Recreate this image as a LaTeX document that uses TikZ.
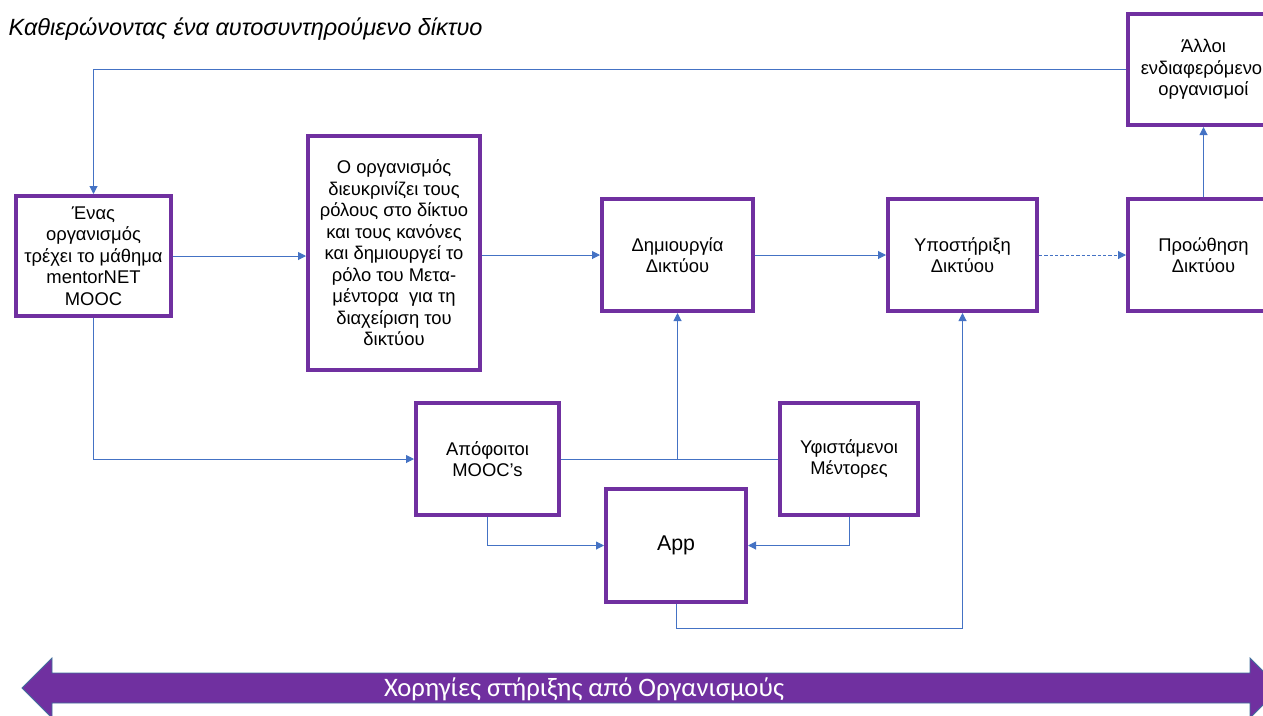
\documentclass[tikz,border=0pt]{standalone}
\usepackage{fontspec}
\setmainfont{Liberation Sans}
\newfontfamily\calibrifont{Carlito}
\usetikzlibrary{arrows.meta,calc}
\definecolor{purp}{HTML}{7030A0}
\definecolor{connc}{HTML}{4472C4}
\definecolor{edgec}{HTML}{41719C}
\begin{document}
\begin{tikzpicture}[x=0.75pt,y=-0.75pt,
  box/.style={draw=purp,line width=3pt,fill=white,align=center,inner sep=0pt,
    font=\fontsize{13.8}{16.1}\selectfont},
  bx/.style 2 args={minimum width={#1*0.75pt},minimum height={#2*0.75pt}},
  conn/.style={draw=connc,line width=0.75pt},
  arr/.style={conn,-{Triangle[length=6pt,width=6pt]}}]
\useasboundingbox (0,0) rectangle (1263,715);
\clip (0,0) rectangle (1263,715);

\node[anchor=base west,font=\itshape\fontsize{17.6}{20}\selectfont] (title) at (4,35)
  {Καθιερώνοντας ένα αυτοσυντηρούμενο δίκτυο};

\node[box,bx={155}{120}] (b1) at (93.5,256)
  {Ένας\\οργανισμός\\τρέχει το μάθημα\\mentorNET\\MOOC};
\node[box,bx={172}{234}] (b2) at (394,253)
  {Ο οργανισμός\\διευκρινίζει τους\\ρόλους στο δίκτυο\\και τους κανόνες\\και δημιουργεί το\\ρόλο του Μετα-\\μέντορα\ \ για τη\\διαχείριση του\\δικτύου};
\node[box,bx={151}{112}] (b3) at (677.5,255) {Δημιουργία\\Δικτύου};
\node[box,bx={149}{112}] (b4) at (962.5,255) {Υποστήριξη\\Δικτύου};
\node[box,bx={151}{112}] (b5) at (1203.5,255) {Προώθηση\\Δικτύου};
\node[box,bx={151}{111}] (b6) at (1203.5,69.5) {Άλλοι\\ενδιαφερόμενοι\\οργανισμοί};
\node[box,bx={143}{112}] (b7) at (487.5,459) {Απόφοιτοι\\MOOC’s};
\node[box,bx={138}{112}] (b8) at (849,459) {Υφιστάμενοι\\Μέντορες};
\node[box,bx={140}{113},font=\fontsize{16}{19}\selectfont] (b9) at (676,545.5) {App};

\draw[arr] (b1.east) -- (b1.east -| b2.west);
\draw[arr] (b2.east |- b3.west) -- (b3.west);
\draw[arr] (b3.east) -- (b4.west);
\draw[arr,dash pattern=on 2.5pt off 1.5pt] (b4.east) -- (b5.west);
\draw[arr] (b5.north) -- (b6.south);
\coordinate (tl) at (b6.west -| b1.north);
\draw[arr] (b6.west) -- (tl) -- (b1.north);
\draw[arr] (b1.south) |- (b7.west);
\draw[conn] (b7.east) -- (b8.west);
\coordinate (j) at (b3.south |- b7.east);
\draw[arr] (j) -- (b3.south);
\draw[arr] (b7.south) |- (b9.west);
\draw[arr] (b8.south) |- (b9.east);
\coordinate (c9) at ($(b9.south)+(0,24)$);
\draw[arr] (b9.south) -- (c9) -| (b4.south);

\filldraw[fill=purp,draw=edgec,line width=0.6pt]
  (22,688) -- (52,658) -- (52,673) -- (1250,673) -- (1250,658) -- (1280,688)
  -- (1250,718) -- (1250,703) -- (52,703) -- (52,718) -- cycle;
\node[text=white,font=\calibrifont\fontsize{20}{22}\selectfont] (sp) at (584,689)
  {Χορηγίες στήριξης από Οργανισμούς};
\end{tikzpicture}
\end{document}
